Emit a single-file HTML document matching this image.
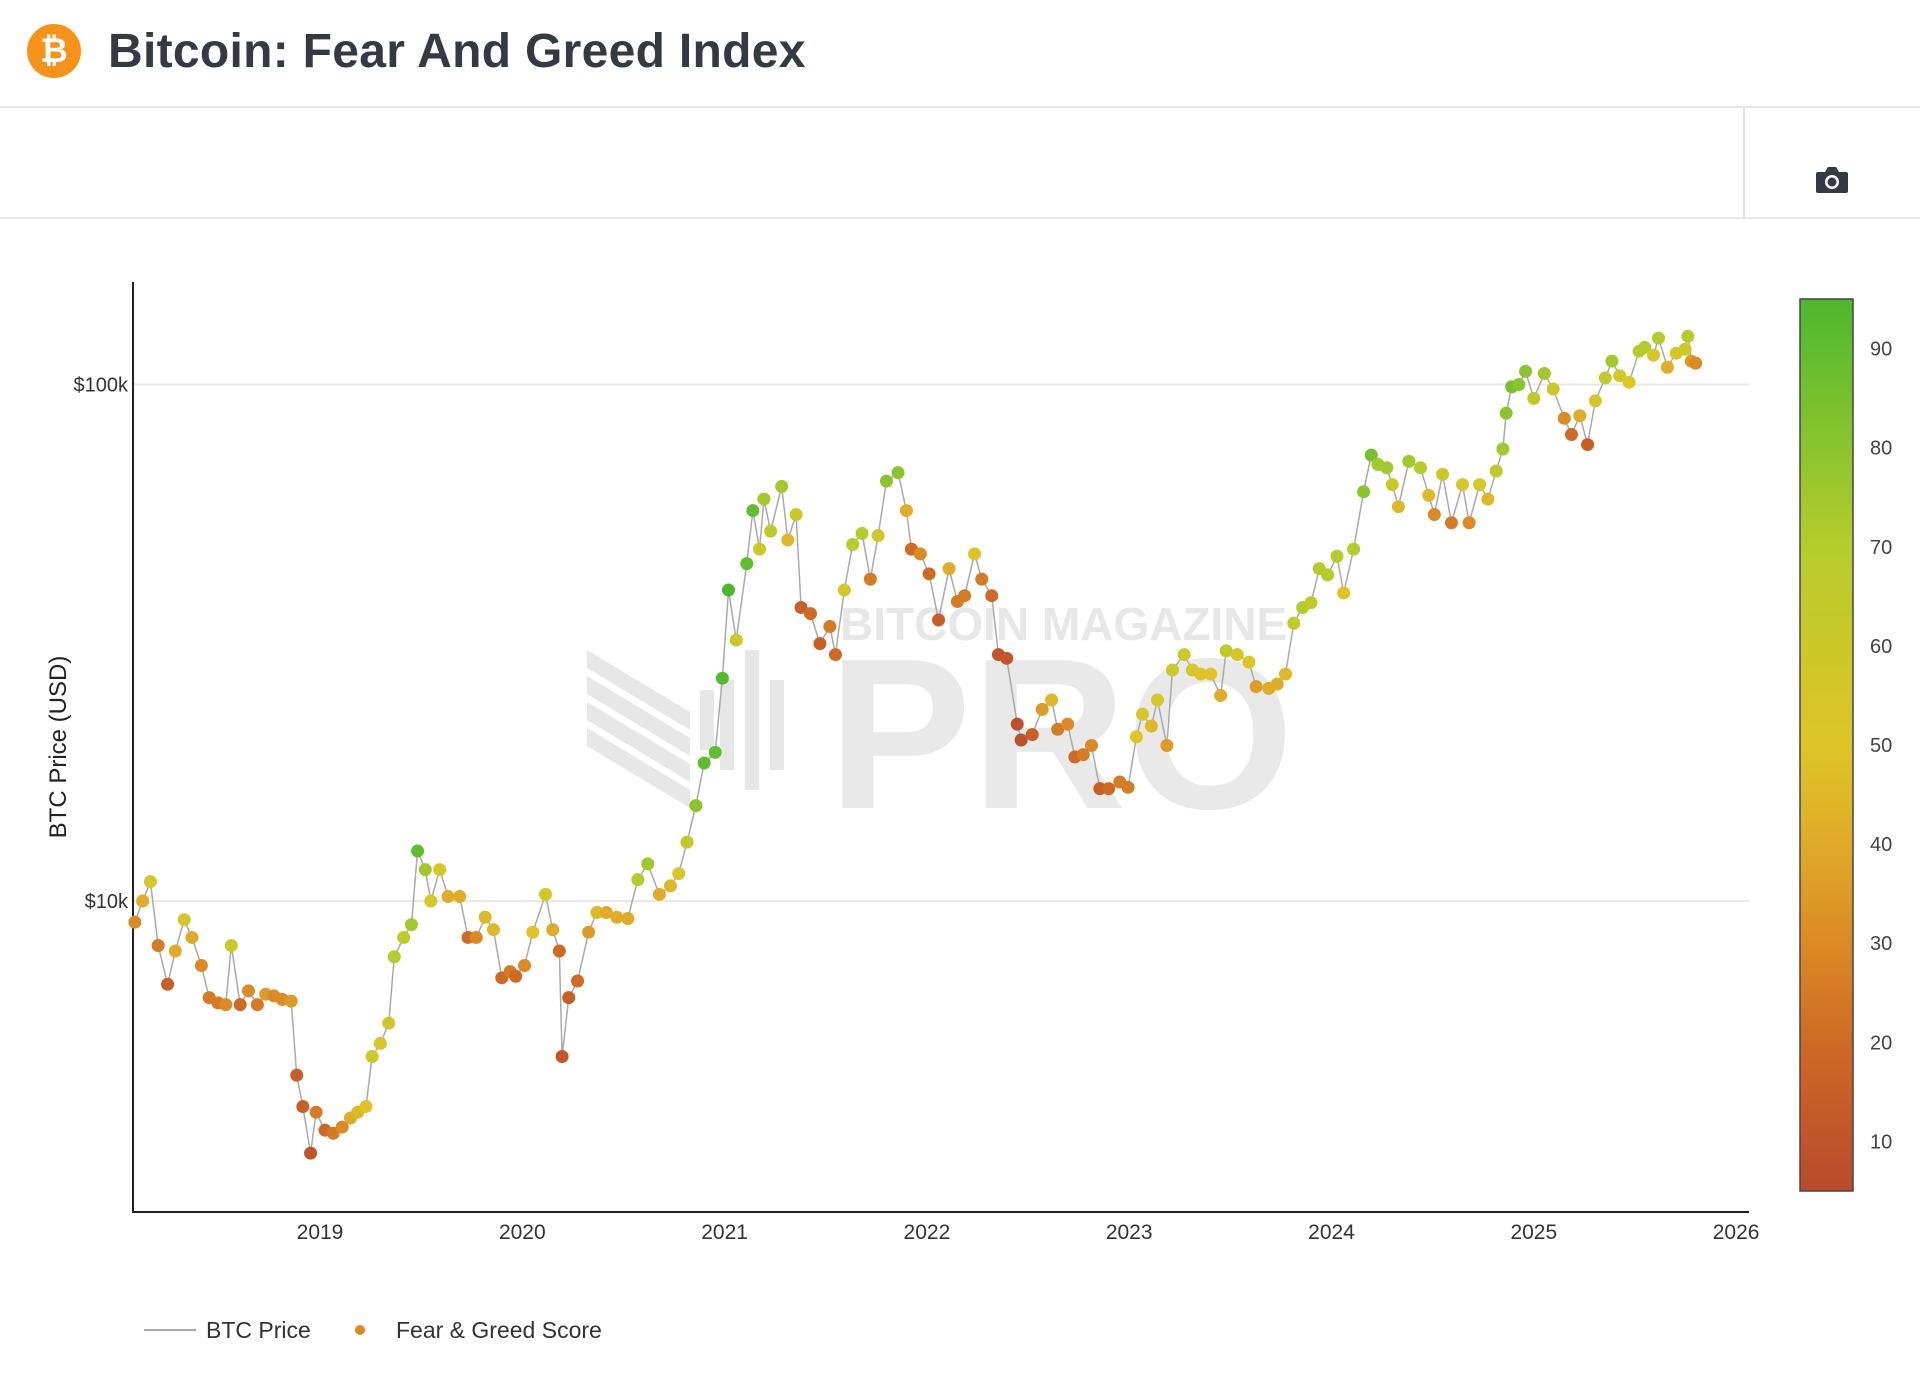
<!DOCTYPE html>
<html><head><meta charset="utf-8">
<style>
body{margin:0;width:1920px;height:1379px;background:#fff;font-family:"Liberation Sans",sans-serif;overflow:hidden;position:relative}
</style></head>
<body>
<div style="position:absolute;left:0;top:0;width:1920px;height:106px;border-bottom:2px solid #e6e6e6">
  <div style="position:absolute;left:27px;top:24px;width:54px;height:54px;border-radius:50%;background:#f7931a;color:#fff;font-weight:bold;font-size:34px;text-align:center;line-height:54px">₿</div>
  <div style="position:absolute;left:108px;top:24px;font-size:48px;font-weight:bold;color:#333a44;letter-spacing:0.3px">Bitcoin: Fear And Greed Index</div>
</div>
<div style="position:absolute;left:0;top:107px;width:1920px;height:110px;border-bottom:2px solid #e6e6e6">
  <div style="position:absolute;left:1743px;top:0;width:2px;height:110px;background:#e6e6e6"></div>
  <svg style="position:absolute;left:1815px;top:58px" width="34" height="30" viewBox="0 0 34 30"><path d="M3 7h7l3-5h8l3 5h7a2 2 0 0 1 2 2v17a2 2 0 0 1-2 2H3a2 2 0 0 1-2-2V9a2 2 0 0 1 2-2z" fill="#333a44"/><circle cx="17" cy="17" r="7" fill="#fff"/><circle cx="17" cy="17" r="4.5" fill="#333a44"/></svg>
</div>
<svg id="chart" style="position:absolute;left:0;top:0" width="1920" height="1379"></svg>
<script>
const dates=["2018-02-01","2018-02-15","2018-03-01","2018-03-15","2018-04-01","2018-04-15","2018-05-01","2018-05-15","2018-06-01","2018-06-15","2018-07-01","2018-07-15","2018-07-25","2018-08-10","2018-08-25","2018-09-10","2018-09-25","2018-10-10","2018-10-25","2018-11-10","2018-11-20","2018-12-01","2018-12-15","2018-12-25",
"2019-01-10","2019-01-25","2019-02-10","2019-02-25","2019-03-10","2019-03-25","2019-04-05","2019-04-20","2019-05-05","2019-05-15","2019-06-01","2019-06-15","2019-06-26","2019-07-10","2019-07-20","2019-08-05","2019-08-20","2019-09-10","2019-09-25","2019-10-10","2019-10-26","2019-11-10","2019-11-25","2019-12-10","2019-12-20",
"2020-01-05","2020-01-20","2020-02-12","2020-02-25","2020-03-08","2020-03-13","2020-03-25","2020-04-10","2020-04-30","2020-05-15","2020-06-01","2020-06-20","2020-07-10","2020-07-28","2020-08-15","2020-09-05","2020-09-25","2020-10-10","2020-10-25","2020-11-10","2020-11-25","2020-12-15","2020-12-28",
"2021-01-08","2021-01-22","2021-02-10","2021-02-21","2021-03-05","2021-03-13","2021-03-25","2021-04-14","2021-04-25","2021-05-10","2021-05-19","2021-06-05","2021-06-22","2021-07-10","2021-07-20","2021-08-05","2021-08-20","2021-09-06","2021-09-21","2021-10-05","2021-10-20","2021-11-10","2021-11-25","2021-12-04","2021-12-20",
"2022-01-05","2022-01-22","2022-02-10","2022-02-25","2022-03-10","2022-03-28","2022-04-10","2022-04-28","2022-05-10","2022-05-25","2022-06-13","2022-06-20","2022-07-10","2022-07-28","2022-08-14","2022-08-25","2022-09-12","2022-09-25","2022-10-10","2022-10-25","2022-11-09","2022-11-25","2022-12-15","2022-12-30",
"2023-01-14","2023-01-25","2023-02-10","2023-02-21","2023-03-10","2023-03-20","2023-04-10","2023-04-25","2023-05-10","2023-05-28","2023-06-15","2023-06-25","2023-07-15","2023-08-05","2023-08-18","2023-09-10","2023-09-25","2023-10-10","2023-10-25","2023-11-10","2023-11-25","2023-12-10","2023-12-25",
"2024-01-11","2024-01-23","2024-02-10","2024-02-28","2024-03-13","2024-03-25","2024-04-10","2024-04-20","2024-05-01","2024-05-20","2024-06-10","2024-06-25","2024-07-05","2024-07-20","2024-08-05","2024-08-25","2024-09-06","2024-09-25","2024-10-10","2024-10-25","2024-11-06","2024-11-12","2024-11-22","2024-12-05","2024-12-17",
"2025-01-01","2025-01-20","2025-02-05","2025-02-25","2025-03-10","2025-03-25","2025-04-08","2025-04-22","2025-05-10","2025-05-22","2025-06-05","2025-06-22","2025-07-10","2025-07-20","2025-08-05","2025-08-14","2025-08-30","2025-09-15","2025-10-01","2025-10-06","2025-10-12","2025-10-20"];
const prices=[9100,10000,10900,8200,6900,8000,9200,8500,7500,6500,6350,6300,8200,6300,6700,6300,6600,6550,6450,6400,4600,4000,3250,3900,
3600,3550,3650,3800,3900,4000,5000,5300,5800,7800,8500,9000,12500,11500,10000,11500,10200,10200,8500,8500,9300,8800,7100,7300,7150,
7500,8700,10300,8800,8000,5000,6500,7000,8700,9500,9500,9300,9250,11000,11800,10300,10700,11300,13000,15300,18500,19400,27000,
40000,32000,45000,57000,48000,60000,52000,63500,50000,56000,37000,36000,31500,34000,30000,40000,49000,51500,42000,51000,65000,67500,57000,48000,47000,
43000,35000,44000,38000,39000,47000,42000,39000,30000,29500,22000,20500,21000,23500,24500,21500,22000,19000,19200,20000,16500,16500,17000,16600,
20800,23000,21800,24500,20000,28000,30000,28000,27500,27500,25000,30500,30000,29000,26000,25800,26300,27500,34500,37000,37800,44000,42800,
46500,39500,48000,62000,73000,70000,69000,64000,58000,71000,69000,61000,56000,67000,54000,64000,54000,64000,60000,68000,75000,88000,99000,100000,106000,
94000,105000,98000,86000,80000,87000,76500,93000,103000,111000,104000,101000,116000,118000,114000,123000,108000,115000,117000,124000,111000,110000];
const scores=[30,40,55,25,15,40,55,40,30,25,25,30,60,20,30,25,35,30,30,35,15,15,10,25,
20,25,30,40,45,50,60,55,60,70,65,75,90,75,55,55,40,40,20,30,45,45,20,25,20,
30,50,55,40,20,10,15,20,35,45,40,40,40,70,75,40,45,55,65,80,90,90,93,
95,60,90,90,60,75,65,75,45,60,15,20,15,25,20,55,70,70,25,60,80,80,40,20,30,
20,15,40,25,25,50,25,20,10,12,8,8,15,35,45,25,30,20,25,30,15,20,25,25,
50,55,45,55,35,60,60,55,50,50,40,65,55,50,35,40,40,45,65,70,65,70,70,
70,50,70,80,85,75,75,60,45,75,70,45,30,60,25,55,30,55,45,65,75,80,85,80,80,
65,75,60,30,20,40,15,55,65,75,55,50,70,70,55,70,40,55,60,70,35,30];
const yTickVals=[10000,100000];
const yTickLabels=["$10k","$100k"];
const xTickYears=[2019,2020,2021,2022,2023,2024,2025,2026];
const cbTicks=[10,20,30,40,50,60,70,80,90];

const NS="http://www.w3.org/2000/svg";
const svg=document.getElementById('chart');
function mk(t,a,p){const e=document.createElementNS(NS,t);for(const k in a)e.setAttribute(k,a[k]);(p||svg).appendChild(e);return e;}
const L=133,R=1749,T=282,B=1212;
function yearFrac(s){const d=new Date(s+"T00:00:00Z");const y=d.getUTCFullYear();const st=Date.UTC(y,0,1),en=Date.UTC(y+1,0,1);return y+(d-st)/(en-st);}
function xS(t){return 320+(t-2019)*202.3;}
function yS(v){return 384.5-(Math.log10(v)-5)*516.5;}
const stops=[[5,[185,74,44]],[20,[207,106,37]],[30,[219,138,37]],[40,[223,171,40]],[50,[223,196,40]],[60,[203,200,42]],[70,[181,204,44]],[80,[140,196,46]],[95,[76,184,46]]];
function col(v){v=Math.max(5,Math.min(95,v));for(let i=1;i<stops.length;i++){if(v<=stops[i][0]){const a=stops[i-1],b=stops[i],f=(v-a[0])/(b[0]-a[0]);const c=a[1].map((x,j)=>Math.round(x+(b[1][j]-x)*f));return `rgb(${c})`;}}return 'rgb(76,184,46)';}

// watermark
const wm=mk('g',{opacity:0.6});


for(let i=0;i<4;i++){mk('polygon',{points:`${587},${650+i*26} ${587},${668+i*26} ${690},${730+i*26} ${690},${712+i*26}`,fill:'#d8d8d8'},wm);}
[[700,690,60],[720,680,90],[745,650,140],[770,680,90]].forEach(b=>mk('rect',{x:b[0],y:b[1],width:14,height:b[2],fill:'#d8d8d8'},wm));
const t1=mk('text',{x:840,y:640,'font-size':46,'font-weight':'bold',fill:'#d8d8d8'},wm);t1.textContent='BITCOIN MAGAZINE';
const t2=mk('text',{x:828,y:808,'font-size':215,'font-weight':'bold',fill:'#dcdcdc'},wm);t2.textContent='PRO';

// grid and y ticks
yTickVals.forEach((v,i)=>{
  const gl=mk('line',{x1:L,x2:R,y1:yS(v),y2:yS(v),stroke:'#e8e8e8','stroke-width':2});
  
  
  const tx=mk('text',{x:128,y:yS(v)+7,'text-anchor':'end','font-size':20,fill:'#333'});
  
  
  tx.textContent=yTickLabels[i];
});
xTickYears.forEach(y=>{
  const tx=mk('text',{x:xS(y),y:1239,'text-anchor':'middle','font-size':21,fill:'#333'});
  
  
  tx.textContent=y;
});
const ax=mk('path',{d:`M${L},${T}V${B}H${R}`,fill:'none',stroke:'#222','stroke-width':2});


const yt=mk('text',{x:0,y:0,'text-anchor':'middle','font-size':24,fill:'#222',transform:'translate(66,747) rotate(-90)'});


yt.textContent='BTC Price (USD)';

// price line
const pts=dates.map((d,i)=>[xS(yearFrac(d)),yS(prices[i])]);
const line=mk('polyline',{points:pts.map(p=>p.join(',')).join(' '),fill:'none',stroke:'#aaa','stroke-width':1.5});


// dots
pts.forEach((p,i)=>{
  const c=mk('circle',{cx:p[0],cy:p[1],r:6.5,fill:col(scores[i])});
  
  
});

// colorbar
const defs=mk('defs',{});
const lg=mk('linearGradient',{id:'cb',x1:0,y1:1,x2:0,y2:0},defs);
stops.forEach(s=>mk('stop',{offset:((s[0]-5)/90),'stop-color':`rgb(${s[1]})`},lg));
const cb=mk('rect',{x:1800,y:299,width:53,height:892,fill:'url(#cb)',stroke:'#444','stroke-width':1.5});


function cbY(v){return 1191-(v-5)/90*892;}
cbTicks.forEach(v=>{
  const tx=mk('text',{x:1870,y:cbY(v)+7,'font-size':20,fill:'#444'});
  
  
  tx.textContent=v;
});

// legend
const lg1=mk('g',{});


mk('line',{x1:144,x2:196,y1:1330,y2:1330,stroke:'#aaa','stroke-width':2},lg1);
const lt1=mk('text',{x:206,y:1338,'font-size':23,fill:'#333'},lg1);lt1.textContent='BTC Price';
const lg2=mk('g',{});


mk('circle',{cx:360,cy:1330,r:5,fill:'#db8a25'},lg2);
const lt2=mk('text',{x:396,y:1338,'font-size':23,fill:'#333'},lg2);lt2.textContent='Fear & Greed Score';
</script>
</body></html>
